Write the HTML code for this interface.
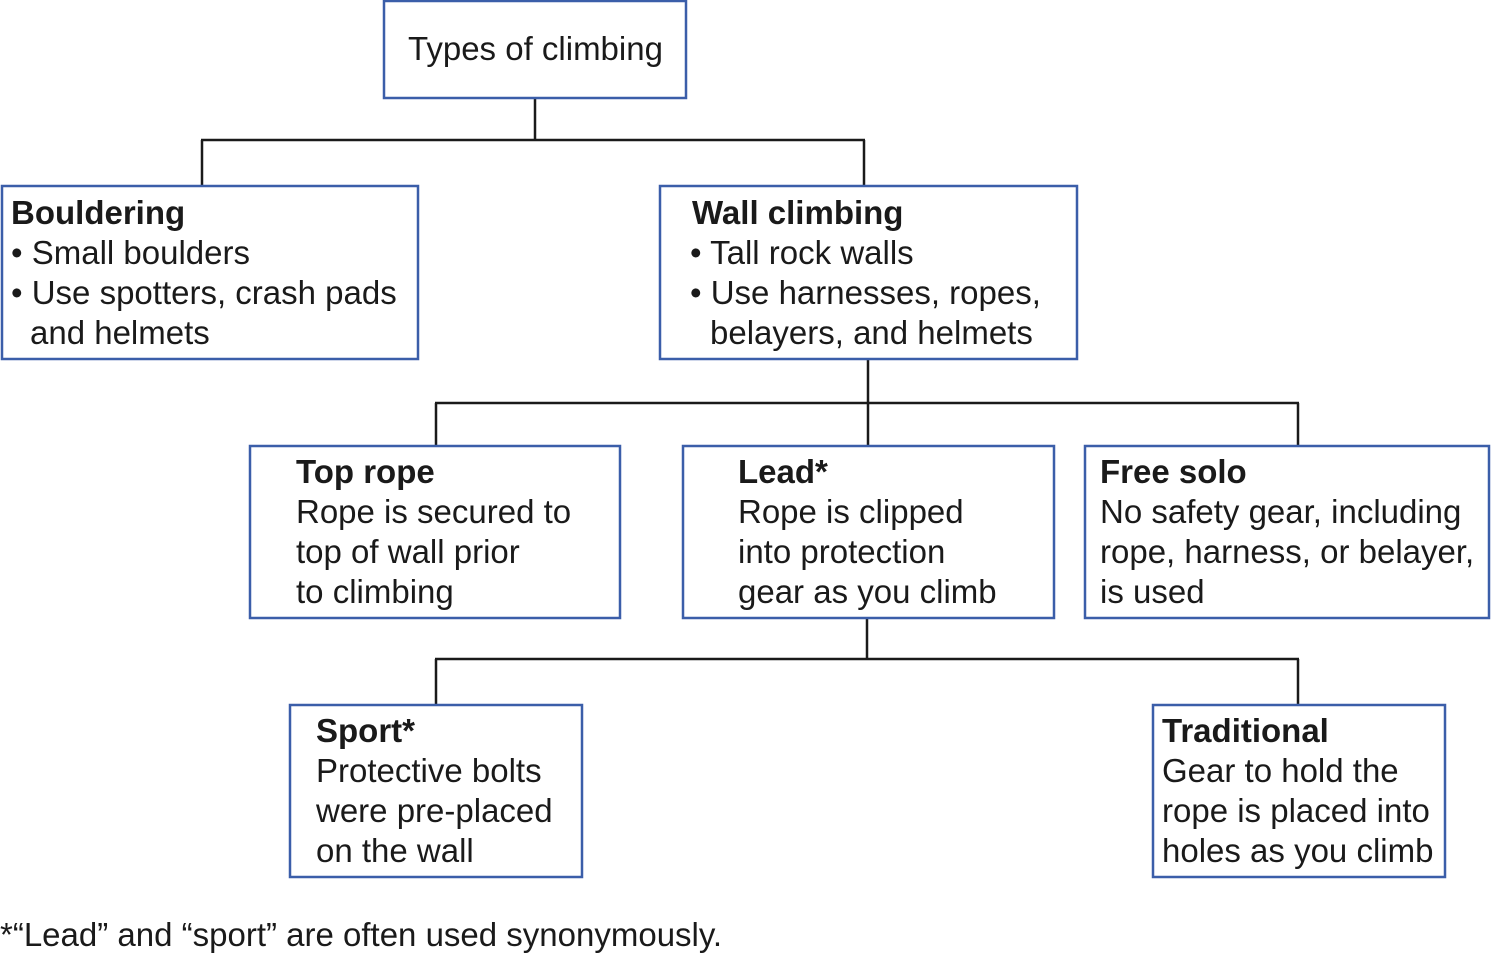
<!DOCTYPE html>
<html><head><meta charset="utf-8"><style>
body{margin:0;background:#fff;}
svg{display:block}
text{font-family:"Liberation Sans",Arial,sans-serif;font-size:33px;fill:#1a1a1a}
.b{font-weight:bold}
rect{fill:#fff;stroke:#3b5ea9;stroke-width:2.5}
line{stroke:#1a1a1a;stroke-width:2.5}
</style></head><body>
<svg width="1492" height="954" viewBox="0 0 1492 954">
<line x1="535" y1="98" x2="535" y2="140"/><line x1="201" y1="140" x2="865" y2="140"/>
<line x1="202" y1="140" x2="202" y2="186"/><line x1="864" y1="140" x2="864" y2="186"/>
<line x1="868" y1="359" x2="868" y2="446"/><line x1="435" y1="403" x2="1299" y2="403"/>
<line x1="436" y1="403" x2="436" y2="446"/><line x1="1298" y1="403" x2="1298" y2="446"/>
<line x1="867" y1="618" x2="867" y2="659"/><line x1="435" y1="659" x2="1299" y2="659"/>
<line x1="436" y1="659" x2="436" y2="705"/><line x1="1298" y1="659" x2="1298" y2="705"/>

<rect x="384" y="1" width="302" height="97"/>
<text x="408" y="60">Types of climbing</text>

<rect x="2" y="186" width="416" height="173"/>
<text x="11" y="224" class="b">Bouldering</text>
<text x="11" y="264">• Small boulders</text>
<text x="11" y="304">• Use spotters, crash pads</text>
<text x="30" y="344">and helmets</text>

<rect x="660" y="186" width="417" height="173"/>
<text x="692" y="224" class="b">Wall climbing</text>
<text x="690" y="264">• Tall rock walls</text>
<text x="690" y="304">• Use harnesses, ropes,</text>
<text x="710" y="344">belayers, and helmets</text>

<rect x="250" y="446" width="370" height="172"/>
<text x="296" y="483" class="b">Top rope</text>
<text x="296" y="523">Rope is secured to</text>
<text x="296" y="563">top of wall prior</text>
<text x="296" y="603">to climbing</text>

<rect x="683" y="446" width="371" height="172"/>
<text x="738" y="483" class="b">Lead*</text>
<text x="738" y="523">Rope is clipped</text>
<text x="738" y="563">into protection</text>
<text x="738" y="603">gear as you climb</text>

<rect x="1085" y="446" width="404" height="172"/>
<text x="1100" y="483" class="b">Free solo</text>
<text x="1100" y="523">No safety gear, including</text>
<text x="1100" y="563">rope, harness, or belayer,</text>
<text x="1100" y="603">is used</text>

<rect x="290" y="705" width="292" height="172"/>
<text x="316" y="742" class="b">Sport*</text>
<text x="316" y="782">Protective bolts</text>
<text x="316" y="822">were pre-placed</text>
<text x="316" y="862">on the wall</text>

<rect x="1153" y="705" width="292" height="172"/>
<text x="1162" y="742" class="b">Traditional</text>
<text x="1162" y="782">Gear to hold the</text>
<text x="1162" y="822">rope is placed into</text>
<text x="1162" y="862">holes as you climb</text>

<text x="0" y="946">*“Lead” and “sport” are often used synonymously.</text>
</svg>
</body></html>
